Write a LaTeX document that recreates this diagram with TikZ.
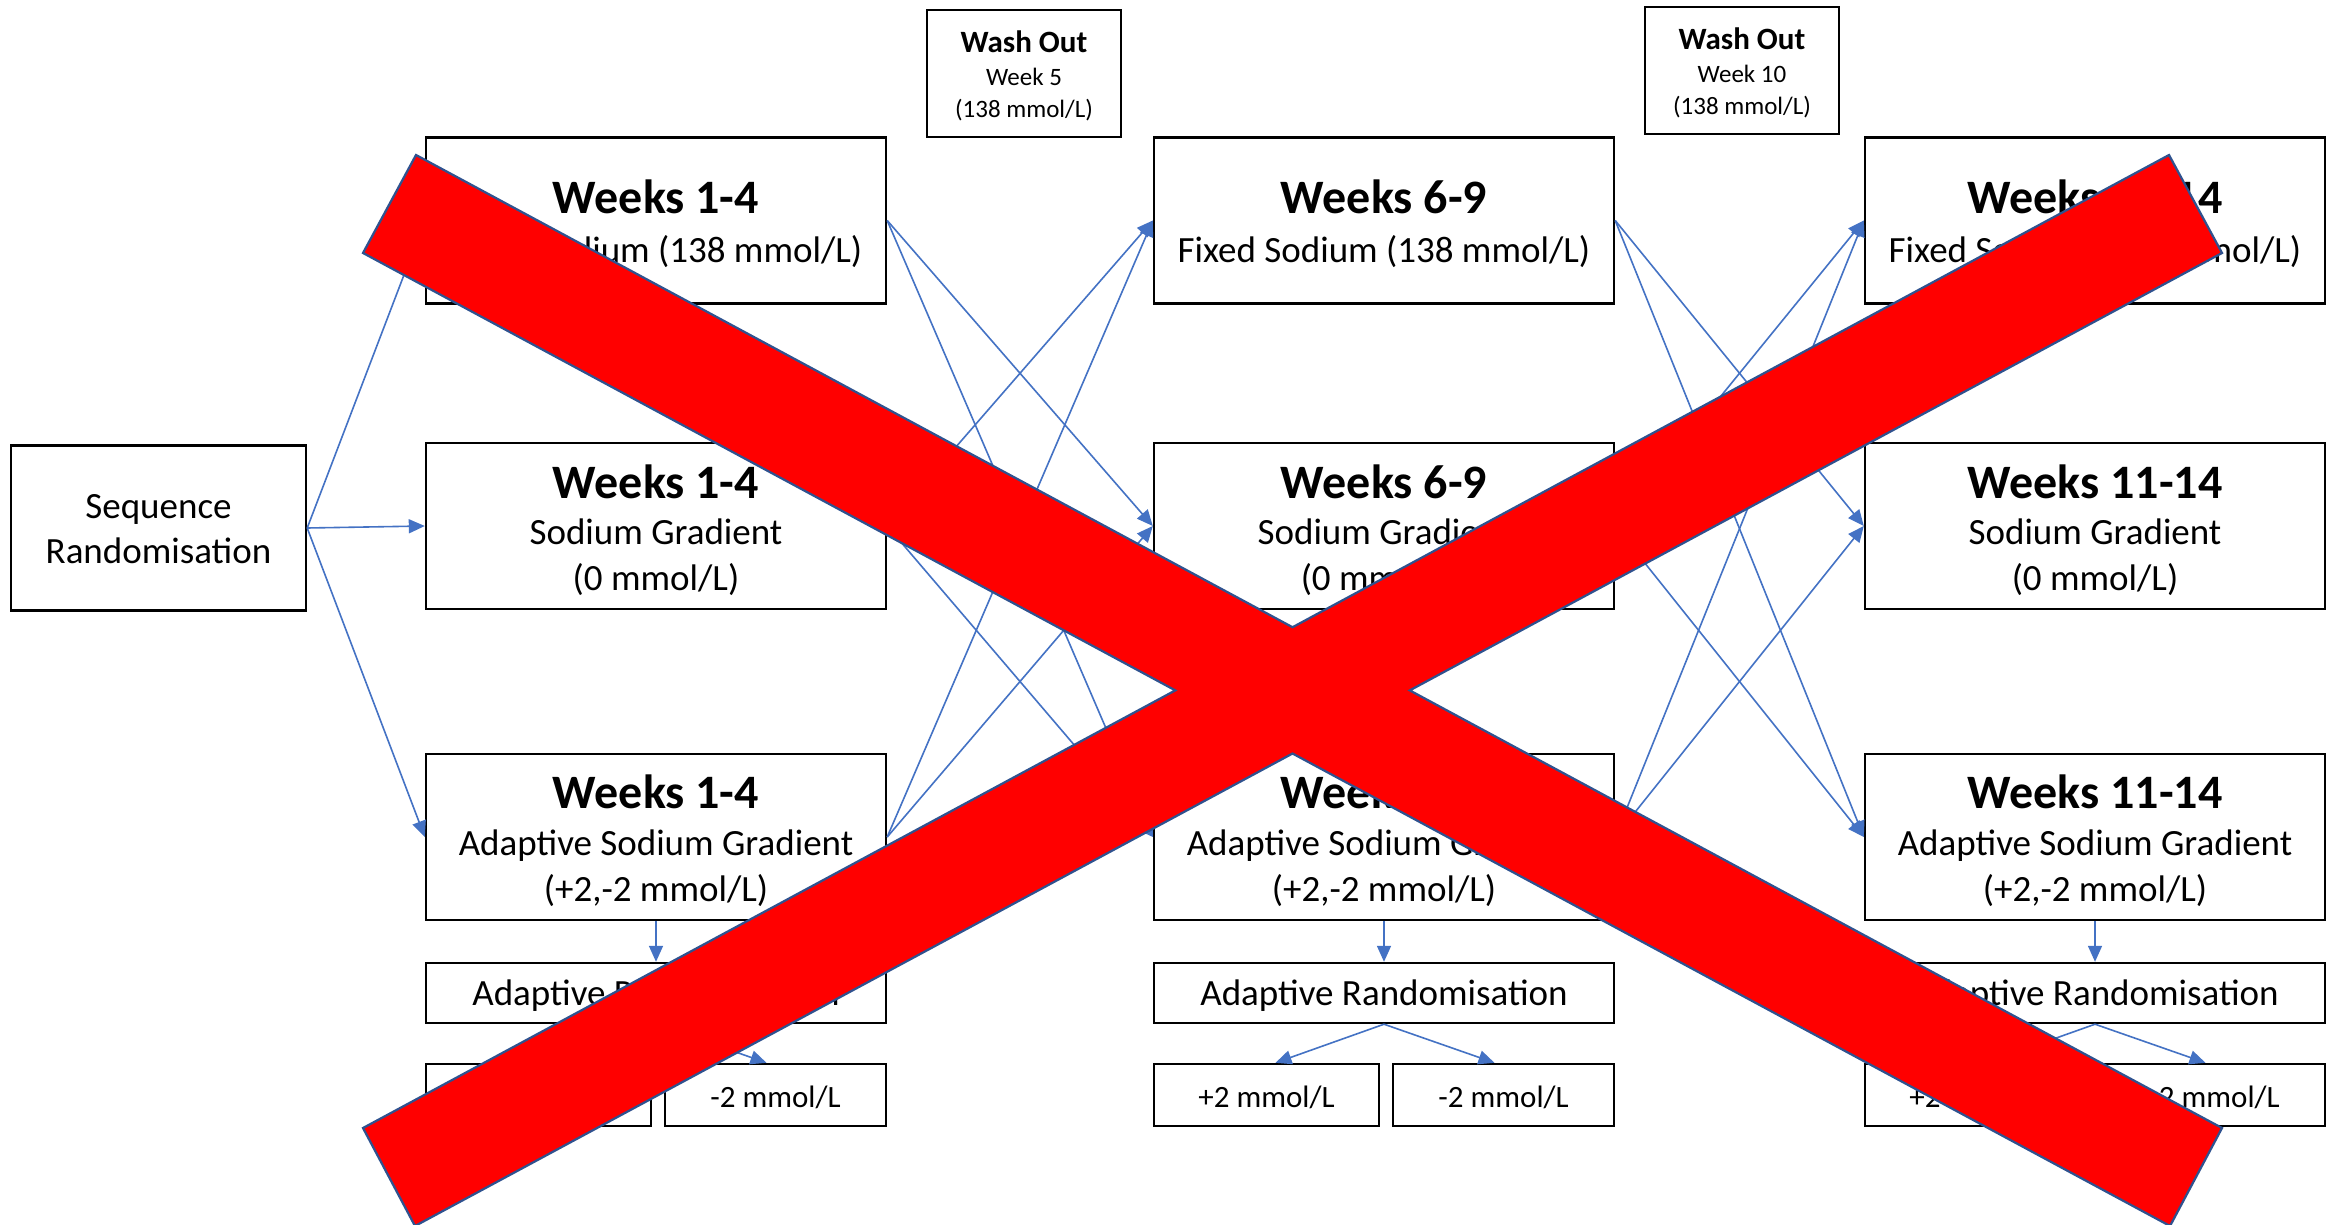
\documentclass[tikz,border=0pt]{standalone}
\usepackage{fontspec}
\setmainfont{Carlito}
\usetikzlibrary{arrows.meta,calc}
\definecolor{linkblue}{HTML}{4472C4}
\definecolor{xred}{HTML}{FF0000}
\definecolor{xedge}{HTML}{2F528F}

\begin{document}
\begin{tikzpicture}[x=1pt,y=-1pt,
  box/.style={draw=black,line width=2.4pt,fill=white,inner sep=0pt,
    minimum width=460pt,minimum height=166pt},
  smallbox/.style={draw=black,line width=2.4pt,fill=white,inner sep=0pt},
  arr/.style={draw=linkblue,line width=1.6pt,-{Triangle[length=16pt,width=14pt]}},
  ttl/.style={anchor=base,inner sep=0pt,font=\fontsize{48}{58}\selectfont\bfseries},
  bod/.style={anchor=base,inner sep=0pt,font=\fontsize{37}{45}\selectfont},
  sml/.style={anchor=base,inner sep=0pt,font=\fontsize{31}{38}\selectfont},
  wtl/.style={anchor=base,inner sep=0pt,font=\fontsize{31}{38}\selectfont\bfseries},
  wbd/.style={anchor=base,inner sep=0pt,font=\fontsize{25}{30}\selectfont}]

\fill[white] (0,0) rectangle (2328,1225);
\useasboundingbox (0,0) rectangle (2328,1225);

% start box
\node[smallbox,minimum width=295pt,minimum height=165pt] (seq) at (158.5,528) {};
\node[bod] (seq-a) at (158.5,518) {Sequence};
\node[bod] (seq-b) at (158.5,563) {Randomisation};

% wash-out boxes
\node[smallbox,minimum width=194pt,minimum height=127pt] (wo1) at (1024,73.5) {};
\node[wtl] (wo1-a) at (1024,53) {Wash Out};
\node[wbd] (wo1-b) at (1024,86) {Week 5};
\node[wbd] (wo1-c) at (1024,118) {(138 mmol/L)};
\node[smallbox,minimum width=194pt,minimum height=127pt] (wo2) at (1742,70.5) {};
\node[wtl] (wo2-a) at (1742,50) {Wash Out};
\node[wbd] (wo2-b) at (1742,83) {Week 10};
\node[wbd] (wo2-c) at (1742,115) {(138 mmol/L)};

% treatment periods
\foreach \c/\x/\wk in {1/656/1-4, 2/1384/6-9, 3/2095/11-14}{
  \node[box] (top\c) at (\x,220.5) {};
  \node[ttl] (top\c-a) at (\x,214) {Weeks \wk};
  \node[bod] (top\c-b) at (\x,262) {Fixed Sodium (138 mmol/L)};

  \node[box] (mid\c) at (\x,526) {};
  \node[ttl] (mid\c-a) at (\x,498) {Weeks \wk};
  \node[bod] (mid\c-b) at (\x,544) {Sodium Gradient};
  \node[bod] (mid\c-c) at (\x,590) {(0 mmol/L)};

  \node[box] (bot\c) at (\x,837) {};
  \node[ttl] (bot\c-a) at (\x,808) {Weeks \wk};
  \node[bod] (bot\c-b) at (\x,855) {Adaptive Sodium Gradient};
  \node[bod] (bot\c-c) at (\x,901) {(+2,-2 mmol/L)};

  \node[smallbox,minimum width=460pt,minimum height=60pt] (ar\c) at (\x,993) {};
  \node[bod] (ar\c-a) at (\x,1005) {Adaptive Randomisation};

  \node[smallbox,minimum width=225pt,minimum height=62pt] (pl\c) at (\x-117.5,1095) {};
  \node[sml] (pl\c-a) at (\x-117.5,1107) {+2 mmol/L};
  \node[smallbox,minimum width=221pt,minimum height=62pt] (mn\c) at (\x+119.5,1095) {};
  \node[sml] (mn\c-a) at (\x+119.5,1107) {-2 mmol/L};

  \draw[arr] (bot\c.south) -- (ar\c.north);
  \draw[arr] (ar\c.south) -- ($(pl\c.north)+(9,0)$);
  \draw[arr] (ar\c.south) -- ($(mn\c.north)+(-9,0)$);
}

% sequence allocation
\draw[arr] (seq.east) -- (top1.west);
\draw[arr] (seq.east) -- (mid1.west);
\draw[arr] (seq.east) -- (bot1.west);

% cross-over between periods
\foreach \a/\b in {1/2, 2/3}{
  \draw[arr] (top\a.east) -- (mid\b.west);
  \draw[arr] (top\a.east) -- (bot\b.west);
  \draw[arr] (mid\a.east) -- (top\b.west);
  \draw[arr] (mid\a.east) -- (bot\b.west);
  \draw[arr] (bot\a.east) -- (top\b.west);
  \draw[arr] (bot\a.east) -- (mid\b.west);
}

% red cross laid over the whole scheme
\coordinate (a1) at (416,155);
\coordinate (a2) at (2222,1128);
\coordinate (a3) at (2170,1226);
\coordinate (a4) at (363,253);
\coordinate (b1) at (363,1128);
\coordinate (b2) at (2169,155);
\coordinate (b3) at (2222,253);
\coordinate (b4) at (415,1226);
\coordinate (xt) at (intersection of a1--a2 and b1--b2);
\coordinate (xr) at (intersection of a1--a2 and b4--b3);
\coordinate (xb) at (intersection of a4--a3 and b4--b3);
\coordinate (xl) at (intersection of a4--a3 and b1--b2);
\draw[fill=xred,draw=xedge,line width=2.2pt,line join=miter]
  (a1) -- (xt) -- (b2) -- (b3) -- (xr) -- (a2) -- (a3) -- (xb)
  -- (b4) -- (b1) -- (xl) -- (a4) -- cycle;
\end{tikzpicture}
\end{document}
